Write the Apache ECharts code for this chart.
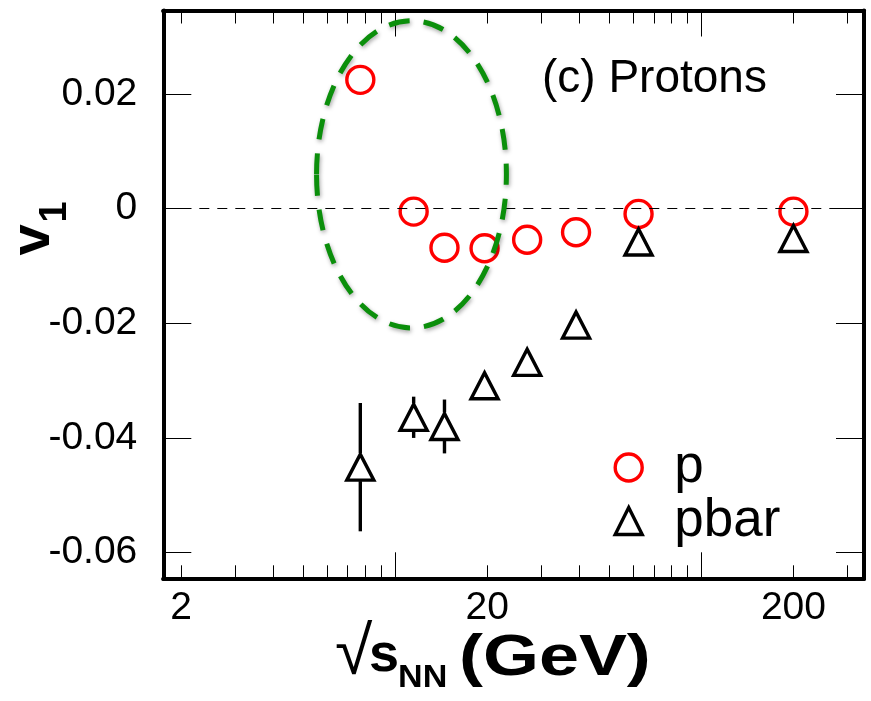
<!DOCTYPE html>
<html><head><meta charset="utf-8">
<script src="https://cdn.jsdelivr.net/npm/echarts@6/dist/echarts.min.js"></script>
<style>html,body{margin:0;padding:0;background:#fff}#c{width:871px;height:701px}</style>
</head><body><div id="c"></div>
<script>
// ---- data ----
const energies = [7.7, 11.5, 14.5, 19.6, 27, 39, 62.4, 200];
const v1Proton = [0.0225, -0.0005, -0.0068, -0.0069, -0.0054, -0.0041, -0.0009, -0.0005];
const v1AntiProton = [-0.0451, -0.0364, -0.0380, -0.0309, -0.0268, -0.0203, -0.0058, -0.0052];
const v1AntiProtonErr = [0.0112, 0.0036, 0.0047, 0.0018, 0.0013, 0.0009, 0.0006, 0.0005];
const xRange = [1.75, 340];
const yRange = [-0.0645, 0.0346];
const xMajorTicks = [10, 100];
const xMinorTicks = [2, 3, 4, 5, 6, 7, 8, 9, 20, 30, 40, 50, 60, 70, 80, 90, 200, 300];
const xTickLabels = [2, 20, 200];
const yTickValues = [-0.06, -0.04, -0.02, 0, 0.02];
const ellipseX = [5.54, 23.1];
const ellipseY = [-0.0208, 0.0328];
const seriesNames = ['p', 'pbar'];

const FONT = '"Liberation Sans", Arial, Helvetica, sans-serif';
const chart = echarts.init(document.getElementById('c'), null, {renderer: 'canvas'});

function xAx(pos, ticks, len, showLabel) {
  return {
    type: 'log', logBase: 10, min: xRange[0], max: xRange[1], position: pos,
    axisLine: {show: true, onZero: false, lineStyle: {color: '#000', width: 4}},
    axisTick: {show: true, inside: true, length: len, customValues: ticks, lineStyle: {color: '#000', width: 1}},
    axisLabel: {show: showLabel, customValues: xTickLabels, margin: 10, fontSize: 39, fontFamily: FONT, color: '#000',
      formatter: v => String(+(+v).toPrecision(6))},
    splitLine: {show: false}, minorTick: {show: false}, minorSplitLine: {show: false}
  };
}
function yAx(pos, showLabel) {
  return {
    type: 'value', min: yRange[0], max: yRange[1], position: pos,
    axisLine: {show: true, onZero: false, lineStyle: {color: '#000', width: 4}},
    axisTick: {show: true, inside: true, length: 28, customValues: yTickValues, lineStyle: {color: '#000', width: 1}},
    axisLabel: {show: showLabel, customValues: yTickValues, margin: 26, fontSize: 39, fontFamily: FONT, color: '#000',
      formatter: v => String(+(+v).toPrecision(6))},
    splitLine: {show: false}
  };
}

const option = {
  animation: false,
  backgroundColor: '#fff',
  grid: {left: 163.3, right: 7, top: 10.5, bottom: 122.7, containLabel: false, outerBoundsMode: 'none'},
  xAxis: [
    xAx('bottom', xMajorTicks, 26, true),
    xAx('bottom', xMinorTicks, 13, false),
    xAx('top', xMajorTicks, 26, false),
    xAx('top', xMinorTicks, 13, false)
  ],
  yAxis: [yAx('left', true), yAx('right', false)],
  legend: {
    orient: 'vertical', left: 608.5, top: 436, itemWidth: 27, itemHeight: 27, itemGap: 0.5,
    selectedMode: false,
    textStyle: {fontSize: 53, fontFamily: FONT, color: '#000', padding: [0, 0, 0, 27]},
    data: [
      {name: seriesNames[0], icon: 'circle', itemStyle: {color: 'rgba(0,0,0,0)', borderColor: '#ff0000', borderWidth: 3.4, opacity: 1}},
      {name: seriesNames[1], icon: 'triangle', itemStyle: {color: 'rgba(0,0,0,0)', borderColor: '#000', borderWidth: 3.4, opacity: 1}}
    ]
  },
  series: [
    {
      name: seriesNames[0], type: 'scatter', xAxisIndex: 0, yAxisIndex: 0, z: 3,
      symbol: 'circle', symbolSize: 27,
      itemStyle: {color: 'rgba(0,0,0,0)', borderColor: '#ff0000', borderWidth: 3.4, opacity: 1},
      emphasis: {disabled: true},
      data: energies.map((e, i) => [e, v1Proton[i]]),
      markLine: {
        silent: true, symbol: ['none', 'none'], label: {show: false},
        lineStyle: {color: '#000', width: 1, type: [10, 8], opacity: 1},
        data: [{yAxis: 0}]
      }
    },
    {
      name: 'pbarErr', type: 'custom', xAxisIndex: 0, yAxisIndex: 0, z: 4, silent: true,
      data: energies.map((e, i) => [e, v1AntiProton[i], v1AntiProtonErr[i]]),
      renderItem: function (params, api) {
        const x = api.value(0), y = api.value(1), err = api.value(2);
        const c = api.coord([x, y]);
        const t = api.coord([x, y + err]);
        const b = api.coord([x, y - err]);
        const half = 14;
        const st = {stroke: '#000', lineWidth: 3.4};
        const ch = [];
        if (t[1] < c[1] - half) ch.push({type: 'line', shape: {x1: c[0], y1: t[1], x2: c[0], y2: c[1] - half}, style: st});
        if (b[1] > c[1] + half) ch.push({type: 'line', shape: {x1: c[0], y1: c[1] + half, x2: c[0], y2: b[1]}, style: st});
        return {type: 'group', children: ch};
      }
    },
    {
      name: seriesNames[1], type: 'scatter', xAxisIndex: 0, yAxisIndex: 0, z: 5,
      symbol: 'triangle', symbolSize: [27, 26],
      itemStyle: {color: 'rgba(0,0,0,0)', borderColor: '#000', borderWidth: 3.4, opacity: 1},
      emphasis: {disabled: true},
      data: energies.map((e, i) => [e, v1AntiProton[i]])
    },
    {
      name: 'ellipse', type: 'custom', xAxisIndex: 0, yAxisIndex: 0, z: 6, silent: true,
      data: [[ellipseX[0], ellipseY[0]]],
      renderItem: function (params, api) {
        const p1 = api.coord([ellipseX[0], ellipseY[1]]);
        const p2 = api.coord([ellipseX[1], ellipseY[0]]);
        return {
          type: 'ellipse',
          shape: {cx: (p1[0] + p2[0]) / 2, cy: (p1[1] + p2[1]) / 2, rx: Math.abs(p2[0] - p1[0]) / 2, ry: Math.abs(p2[1] - p1[1]) / 2},
          style: {fill: null, stroke: '#0b8f0b', lineWidth: 5, lineDash: [21, 14],
            shadowBlur: 4, shadowColor: 'rgba(0,0,0,0.35)', shadowOffsetX: 1, shadowOffsetY: 2}
        };
      }
    }
  ],
  graphic: [
    {type: 'text', left: 542, top: 56, style: {text: '(c) Protons', fontSize: 46, fontFamily: FONT, fill: '#000'}},
    // y title v_1
    {type: 'text', x: 34, y: 240, rotation: Math.PI / 2,
      style: {text: 'v', fontSize: 56, fontWeight: 'bold', fontFamily: FONT, fill: '#000', align: 'center', verticalAlign: 'middle'}},
    {type: 'text', x: 56, y: 212, rotation: Math.PI / 2,
      style: {text: '1', fontSize: 38, fontWeight: 'bold', fontFamily: FONT, fill: '#000', align: 'center', verticalAlign: 'middle'}},
    // x title
    {type: 'text', x: 335, y: 655, style: {text: '\u221A', fontSize: 68, fontFamily: FONT, fill: '#000', align: 'left', verticalAlign: 'middle'}},
    {type: 'text', x: 369, y: 656, style: {text: 's', fontSize: 54, fontWeight: 'bold', fontFamily: FONT, fill: '#000', align: 'left', verticalAlign: 'middle'}},
    {type: 'text', x: 398, y: 678, scaleX: 1.1, style: {text: 'NN', fontSize: 31, fontWeight: 'bold', fontFamily: FONT, fill: '#000', align: 'left', verticalAlign: 'middle'}},
    {type: 'text', x: 459, y: 659, scaleX: 1.24, style: {text: '(GeV)', fontSize: 58, fontWeight: 'bold', fontFamily: FONT, fill: '#000', align: 'left', verticalAlign: 'middle'}}
  ]
};
chart.setOption(option);
</script>
</body></html>
